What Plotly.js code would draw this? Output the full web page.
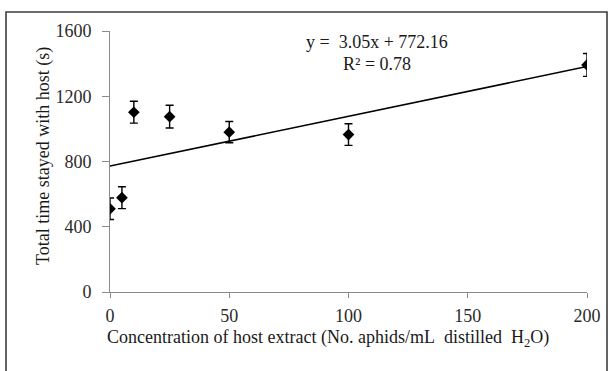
<!DOCTYPE html>
<html>
<head>
<meta charset="utf-8">
<script src="https://cdn.plot.ly/plotly-3.0.1.min.js"></script>
<style>
html,body{margin:0;padding:0;background:#fff;}
#chart{width:613px;height:371px;}
</style>
</head>
<body>
<div id="chart"></div>
<script>
// Data
var concentration = [0, 5, 10, 25, 50, 100, 200];
var timeWithHost = [510, 578, 1102, 1075, 980, 965, 1392];
var errorSE = [66, 67, 67, 70, 65, 66, 70];
var trendSlope = 3.05;
var trendIntercept = 772.16;
var trendX = [0, 200];
var xTicks = [0, 50, 100, 150, 200];
var yTicks = [0, 400, 800, 1200, 1600];

var trendY = trendX.map(function (x) { return trendSlope * x + trendIntercept; });

// layout geometry (pixels)
var W = 613, H = 371;
var L = 110, R = 587, T = 31, B = 292;
function px(x) { return (x - L) / (R - L); }
function py(y) { return (B - y) / (B - T); }

var font = "Liberation Serif, Times New Roman, serif";
var FS = 18;

var traces = [
  {
    x: trendX, y: trendY, mode: 'lines', type: 'scatter',
    line: {color: '#000000', width: 1.6},
    hoverinfo: 'skip', showlegend: false
  },
  {
    x: concentration, y: timeWithHost, mode: 'markers', type: 'scatter',
    marker: {symbol: 'diamond', size: 9, color: '#000000'},
    error_y: {type: 'data', array: errorSE, visible: true, color: '#000000', thickness: 1.4, width: 4},
    showlegend: false
  }
];

var layout = {
  width: W, height: H,
  margin: {l: L, r: W - R, t: T, b: H - B, pad: 0},
  paper_bgcolor: '#ffffff', plot_bgcolor: '#ffffff',
  showlegend: false,
  font: {family: font, size: FS, color: '#222222'},
  xaxis: {
    range: [0, 200], tickvals: xTicks, ticktext: xTicks.map(String),
    showgrid: false, zeroline: false, showline: true, linecolor: '#8a8a8a', linewidth: 1,
    ticks: 'outside', ticklen: 5, tickcolor: '#8a8a8a', tickwidth: 1,
    ticklabelstandoff: 2,
    tickfont: {family: font, size: FS, color: '#2a2a2a'},
    fixedrange: true
  },
  yaxis: {
    range: [0, 1600], tickvals: yTicks, ticktext: yTicks.map(String),
    showgrid: false, zeroline: false, showline: true, linecolor: '#8a8a8a', linewidth: 1,
    ticks: 'outside', ticklen: 7, tickcolor: '#8a8a8a', tickwidth: 1,
    ticklabelstandoff: 7,
    tickfont: {family: font, size: FS, color: '#2a2a2a'},
    fixedrange: true
  },
  annotations: [
    {
      text: 'Concentration of host extract (No. aphids/mL\u00A0 distilled\u00A0 H<sub>2</sub>O)',
      xref: 'paper', yref: 'paper', x: px(328), y: py(338),
      xanchor: 'center', yanchor: 'middle', showarrow: false,
      font: {family: font, size: FS, color: '#1a1a1a'}
    },
    {
      text: 'Total time stayed with host (s)',
      xref: 'paper', yref: 'paper', x: px(43), y: py(156),
      xanchor: 'center', yanchor: 'middle', showarrow: false, textangle: -90,
      font: {family: font, size: FS, color: '#1a1a1a'}
    },
    {
      text: 'y =\u00A0 3.05x + 772.16',
      xref: 'paper', yref: 'paper', x: px(304), y: py(42),
      xanchor: 'left', yanchor: 'middle', showarrow: false,
      font: {family: font, size: FS, color: '#1a1a1a'}
    },
    {
      text: 'R² = 0.78',
      xref: 'paper', yref: 'paper', x: px(341), y: py(64),
      xanchor: 'left', yanchor: 'middle', showarrow: false,
      font: {family: font, size: FS, color: '#1a1a1a'}
    }
  ],
  shapes: [
    {
      type: 'rect', xref: 'paper', yref: 'paper', layer: 'above',
      x0: px(6), x1: px(607), y0: py(375), y1: py(12),
      line: {color: '#3c3c3c', width: 1.6}, fillcolor: 'rgba(0,0,0,0)'
    }
  ]
};

Plotly.newPlot('chart', traces, layout, {displayModeBar: false, staticPlot: true});
</script>
</body>
</html>
